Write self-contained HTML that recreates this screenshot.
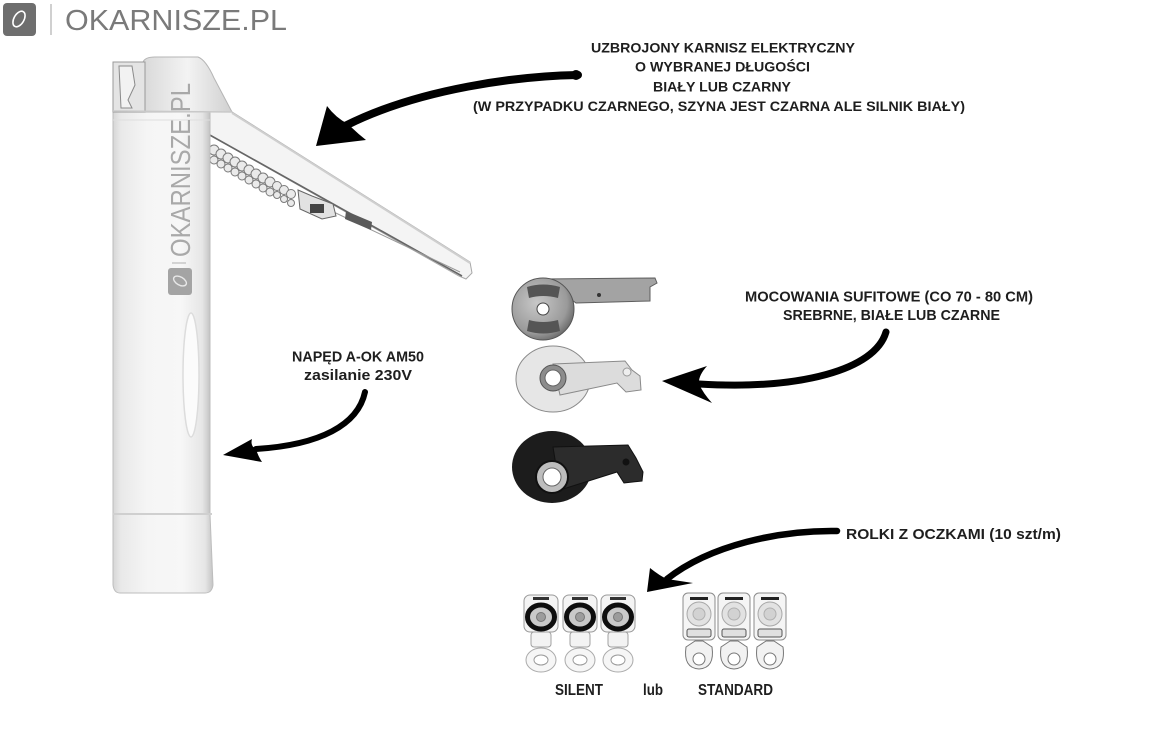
<!DOCTYPE html>
<html><head><meta charset="utf-8"><style>
html,body{margin:0;padding:0;background:#fff;}
svg{display:block;}
.t{font-family:"Liberation Sans","DejaVu Sans",sans-serif;font-weight:bold;fill:#1e1e1e;}
</style></head><body>
<svg width="1164" height="751" viewBox="0 0 1164 751" xmlns="http://www.w3.org/2000/svg">
<defs>
<linearGradient id="col" x1="0" x2="1" y1="0" y2="0">
<stop offset="0" stop-color="#d6d6d6"/><stop offset="0.08" stop-color="#e9e9e9"/>
<stop offset="0.35" stop-color="#f5f5f5"/><stop offset="0.7" stop-color="#f7f7f7"/>
<stop offset="0.92" stop-color="#e6e6e6"/><stop offset="1" stop-color="#c4c4c4"/>
</linearGradient>
<linearGradient id="cap" x1="0" x2="1" y1="0" y2="0">
<stop offset="0" stop-color="#d9d9d9"/><stop offset="0.5" stop-color="#f3f3f3"/><stop offset="1" stop-color="#d0d0d0"/>
</linearGradient>
<radialGradient id="silv" cx="0.4" cy="0.4" r="0.7">
<stop offset="0" stop-color="#c8c8c8"/><stop offset="0.7" stop-color="#9a9a9a"/><stop offset="1" stop-color="#5a5a5a"/>
</radialGradient>
</defs>

<!-- top-left logo -->
<rect x="3" y="3" width="33" height="33" rx="4" fill="#6e6e6e"/>
<ellipse cx="19" cy="19" rx="5" ry="8.5" transform="rotate(30 19 19)" fill="none" stroke="#fff" stroke-width="1.6"/>
<line x1="51" y1="4" x2="51" y2="35" stroke="#b0b0b0" stroke-width="1.2"/>
<text x="65" y="30" font-family="Liberation Sans, sans-serif" font-size="29" fill="#7a7a7a" textLength="222" lengthAdjust="spacingAndGlyphs">OKARNISZE.PL</text>

<!-- rail -->
<polygon points="205,110 232,112 470,262 472,273 466,279 459,276 206,133" fill="#f4f4f4" stroke="#a8a8a8" stroke-width="1"/>
<line x1="232" y1="113" x2="470" y2="263" stroke="#cfcfcf" stroke-width="2"/>
<line x1="208" y1="134" x2="462" y2="276" stroke="#666" stroke-width="1.6"/>
<line x1="300" y1="196" x2="460" y2="272" stroke="#999" stroke-width="1"/>
<!-- rollers on rail -->
<g fill="#eaeaea" stroke="#7a7a7a" stroke-width="1">
<circle cx="214" cy="150" r="5"/><circle cx="214" cy="160" r="4"/>
<circle cx="221" cy="154" r="5"/><circle cx="221" cy="164" r="4"/>
<circle cx="228" cy="158" r="5"/><circle cx="228" cy="168" r="4"/>
<circle cx="235" cy="162" r="5"/><circle cx="235" cy="172" r="4"/>
<circle cx="242" cy="166" r="5"/><circle cx="242" cy="176" r="4"/>
<circle cx="249" cy="170" r="5"/><circle cx="249" cy="180" r="4"/>
<circle cx="256" cy="174" r="5"/><circle cx="256" cy="184" r="4"/>
<circle cx="263" cy="178" r="5"/><circle cx="263" cy="188" r="4"/>
<circle cx="270" cy="182" r="5"/><circle cx="270" cy="192" r="4"/>
<circle cx="277" cy="186" r="4.5"/><circle cx="277" cy="195" r="3.5"/>
<circle cx="284" cy="190" r="4.5"/><circle cx="284" cy="199" r="3.5"/>
<circle cx="291" cy="194" r="4.5"/><circle cx="291" cy="203" r="3.5"/>
</g>
<polygon points="298,190 312,196 333,204 336,216 322,219 300,209" fill="#e2e2e2" stroke="#666" stroke-width="1"/>
<rect x="310" y="204" width="14" height="9" fill="#444"/>
<polygon points="346,211 372,222 371,230 345,219" fill="#5a5a5a"/>

<!-- motor column -->
<rect x="113" y="110" width="97" height="404" fill="url(#col)" stroke="#bdbdbd" stroke-width="1"/>
<path d="M143,112 L143,62 Q145,57 155,57 L198,57 Q206,60 214,78 L232,112 Z" fill="url(#cap)" stroke="#b5b5b5" stroke-width="1"/>
<rect x="113" y="62" width="32" height="50" fill="#e4e4e4" stroke="#9a9a9a" stroke-width="1"/>
<path d="M119,66 L132,66 L135,85 L128,100 L132,108 L121,108 Z" fill="#f2f2f2" stroke="#8a8a8a" stroke-width="1"/>
<line x1="113" y1="111" x2="232" y2="112" stroke="#c9c9c9" stroke-width="1.5"/>
<line x1="113" y1="120" x2="210" y2="120" stroke="#dedede" stroke-width="1"/>
<ellipse cx="191" cy="375" rx="8" ry="62" fill="#fbfbfb" stroke="#dcdcdc" stroke-width="1.5"/>
<path d="M113,514 L210,514 L213,585 Q212,593 205,593 L120,593 Q114,593 113,585 Z" fill="url(#col)" stroke="#bdbdbd" stroke-width="1"/>
<line x1="113" y1="514" x2="212" y2="514" stroke="#cfcfcf" stroke-width="2"/>
<!-- watermark on column -->
<text transform="translate(190,257) rotate(-90)" font-family="Liberation Sans, sans-serif" font-size="28" fill="#a9a9a9" textLength="174" lengthAdjust="spacingAndGlyphs">OKARNISZE.PL</text>
<line x1="172" y1="263" x2="186" y2="263" stroke="#b0b0b0" stroke-width="1"/>
<rect x="168" y="268" width="24" height="27" rx="3" fill="#a4a4a4"/>
<ellipse cx="180" cy="281" rx="4" ry="7" transform="rotate(-60 180 281)" fill="none" stroke="#e8e8e8" stroke-width="1.4"/>

<!-- labels -->
<text class="t" x="591" y="52.7" font-size="14" textLength="264" lengthAdjust="spacingAndGlyphs">UZBROJONY KARNISZ ELEKTRYCZNY</text>
<text class="t" x="635" y="71.7" font-size="14" textLength="175" lengthAdjust="spacingAndGlyphs">O WYBRANEJ DŁUGOŚCI</text>
<text class="t" x="653" y="91.7" font-size="14" textLength="138" lengthAdjust="spacingAndGlyphs">BIAŁY LUB CZARNY</text>
<text class="t" x="473" y="111" font-size="14" textLength="492" lengthAdjust="spacingAndGlyphs">(W PRZYPADKU CZARNEGO, SZYNA JEST CZARNA ALE SILNIK BIAŁY)</text>

<text class="t" x="292" y="361.7" font-size="15" textLength="132" lengthAdjust="spacingAndGlyphs">NAPĘD A-OK AM50</text>
<text class="t" x="304" y="380" font-size="15" textLength="108" lengthAdjust="spacingAndGlyphs">zasilanie 230V</text>

<text class="t" x="745" y="301.7" font-size="15" textLength="288" lengthAdjust="spacingAndGlyphs">MOCOWANIA SUFITOWE (CO 70 - 80 CM)</text>
<text class="t" x="783" y="320" font-size="15" textLength="217" lengthAdjust="spacingAndGlyphs">SREBRNE, BIAŁE LUB CZARNE</text>

<text class="t" x="846" y="539" font-size="15" textLength="215" lengthAdjust="spacingAndGlyphs">ROLKI Z OCZKAMI (10 szt/m)</text>

<text class="t" x="555" y="695" font-size="16" textLength="48" lengthAdjust="spacingAndGlyphs">SILENT</text>
<text class="t" x="643" y="695" font-size="16" textLength="20" lengthAdjust="spacingAndGlyphs">lub</text>
<text class="t" x="698" y="695" font-size="16" textLength="75" lengthAdjust="spacingAndGlyphs">STANDARD</text>

<!-- arrows -->
<g fill="none" stroke="#000" stroke-linecap="round">
<path d="M578,75 C520,76 420,88 345,126" stroke-width="8"/>
<path d="M365,392 C358,425 320,445 256,449" stroke-width="6"/>
<path d="M886,332 C875,370 800,390 699,384" stroke-width="7"/>
<path d="M837,531 C780,530 710,545 667,579" stroke-width="6.5"/>
</g>
<circle cx="576" cy="75" r="5" fill="#000"/>
<path d="M316,146 L327,106 Q336,118 348,124 Q357,133 366,140 Z" fill="#000"/>
<path d="M223,455 L252,439 Q250,446 256,449 Q258,456 262,462 Z" fill="#000"/>
<path d="M662,381 L707,366 Q698,376 699,384 Q703,393 712,403 Z" fill="#000"/>
<path d="M647,592 L650,568 Q660,576 667,579 Q680,581 693,583 Z" fill="#000"/>

<!-- silver bracket -->
<path d="M543,279 L655,278 L657,283 L650,287 L650,301 L576,303 Z" fill="#a3a3a3" stroke="#5e5e5e" stroke-width="1"/>
<circle cx="543" cy="309" r="31" fill="url(#silv)" stroke="#555" stroke-width="1"/>
<path d="M527,287 Q543,282 560,287 L558,298 Q543,294 529,298 Z" fill="#555"/>
<path d="M527,331 Q543,336 560,331 L558,320 Q543,324 529,320 Z" fill="#555"/>
<circle cx="543" cy="309" r="6" fill="#fff" stroke="#444" stroke-width="1"/>
<circle cx="599" cy="295" r="2" fill="#333"/>

<!-- white bracket -->
<ellipse cx="553" cy="379" rx="37" ry="33" fill="#e6e6e6" stroke="#8a8a8a" stroke-width="1"/>
<path d="M553,364 L625,361 L632,370 L640,376 L641,390 L626,392 L617,383 L560,395 Z" fill="#dcdcdc" stroke="#8a8a8a" stroke-width="1"/>
<circle cx="627" cy="372" r="4" fill="#eee" stroke="#999" stroke-width="1"/>
<circle cx="553" cy="378" r="13" fill="#8c8c8c" stroke="#555" stroke-width="1"/>
<circle cx="553" cy="378" r="8" fill="#fff" stroke="#666" stroke-width="1"/>

<!-- black bracket -->
<ellipse cx="552" cy="467" rx="40" ry="36" fill="#1c1c1c"/>
<path d="M553,447 L628,445 L636,458 L643,472 L642,481 L624,483 L617,472 L560,490 Z" fill="#2c2c2c" stroke="#111" stroke-width="1"/>
<circle cx="626" cy="462" r="3.5" fill="#111"/>
<circle cx="552" cy="477" r="16" fill="#bdbdbd" stroke="#111" stroke-width="2"/>
<circle cx="552" cy="477" r="9" fill="#fff" stroke="#666" stroke-width="1"/>

<!-- silent rollers -->
<g id="s1">
<rect x="524" y="595" width="34" height="37" rx="6" fill="#f4f4f4" stroke="#9a9a9a" stroke-width="1"/>
<rect x="533" y="597" width="16" height="3" fill="#333"/>
<ellipse cx="541" cy="617" rx="13.5" ry="12" fill="#c9c9c9" stroke="#0e0e0e" stroke-width="5"/>
<circle cx="541" cy="617" r="4.5" fill="#9c9c9c" stroke="#777" stroke-width="1"/>
<rect x="531" y="632" width="20" height="15" rx="3" fill="#f3f3f3" stroke="#a0a0a0" stroke-width="1"/>
<ellipse cx="541" cy="660" rx="15" ry="12" fill="#f6f6f6" stroke="#aaa" stroke-width="1"/>
<ellipse cx="541" cy="660" rx="7" ry="5" fill="#fff" stroke="#999" stroke-width="1"/>
</g>
<use href="#s1" x="39"/>
<use href="#s1" x="77"/>

<!-- standard rollers -->
<g id="r1">
<rect x="683" y="593" width="32" height="47" rx="5" fill="#f5f5f5" stroke="#8c8c8c" stroke-width="1"/>
<rect x="690" y="597" width="18" height="3" fill="#222"/>
<circle cx="699" cy="614" r="12" fill="#e2e2e2" stroke="#a8a8a8" stroke-width="1"/>
<circle cx="699" cy="614" r="6" fill="#d2d2d2" stroke="#b0b0b0" stroke-width="1"/>
<rect x="687" y="629" width="24" height="8" rx="2" fill="#e0e0e0" stroke="#555" stroke-width="1"/>
<path d="M695,641 L686,647 Q683,668 699,669 Q715,668 712,647 L703,641 Z" fill="#f2f2f2" stroke="#777" stroke-width="1"/>
<circle cx="699" cy="659" r="6" fill="#fff" stroke="#777" stroke-width="1"/>
</g>
<use href="#r1" x="35"/>
<use href="#r1" x="71"/>
</svg>
</body></html>
